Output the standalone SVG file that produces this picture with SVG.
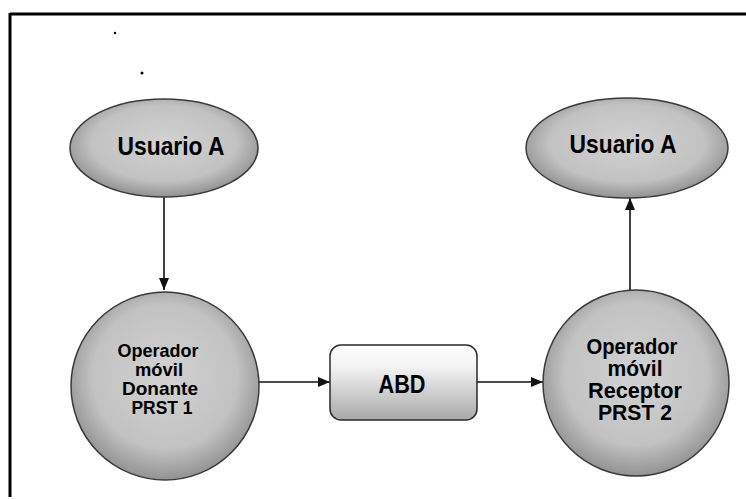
<svg xmlns="http://www.w3.org/2000/svg" width="746" height="499" viewBox="0 0 746 499">
<defs>
<radialGradient id="gEll" cx="50%" cy="45%" r="55%">
<stop offset="0" stop-color="#d2d2d2"/>
<stop offset="0.7" stop-color="#c2c2c2"/>
<stop offset="1" stop-color="#929292"/>
</radialGradient>
<linearGradient id="gBox" x1="0" y1="0" x2="0" y2="1">
<stop offset="0" stop-color="#ffffff"/>
<stop offset="0.3" stop-color="#f2f2f2"/>
<stop offset="1" stop-color="#a8a8a8"/>
</linearGradient>
<marker id="arr" markerWidth="12" markerHeight="10" refX="12" refY="5" orient="auto" markerUnits="userSpaceOnUse">
<path d="M0,0 L12,5 L0,10 Z" fill="#111"/>
</marker>
</defs>
<style>
.shape{fill:url(#gEll);stroke:#3a3a3a;stroke-width:1.5}
.box{fill:url(#gBox);stroke:#2a2a2a;stroke-width:1.5}
.t{font-family:"Liberation Sans",Arial,sans-serif;font-weight:bold;fill:#000;text-anchor:middle}
.conn{stroke:#111;stroke-width:1.6;fill:none;marker-end:url(#arr)}
</style>
<rect width="746" height="499" fill="#fff"/>
<g id="frame">
<line x1="10" y1="14" x2="746" y2="14" stroke="#000" stroke-width="3"/>
<line x1="10" y1="13" x2="10" y2="497" stroke="#000" stroke-width="3"/>
<circle cx="115" cy="33" r="1.2" fill="#000"/>
<circle cx="142" cy="73" r="1.5" fill="#000"/>
</g>
<g id="connectors">
<line class="conn" x1="164" y1="197" x2="164" y2="290"/>
<line class="conn" x1="630" y1="290" x2="630" y2="198"/>
<line class="conn" x1="259" y1="382" x2="330" y2="382"/>
<line class="conn" x1="477" y1="382" x2="543" y2="382"/>
</g>
<g id="usuarioA1">
<ellipse class="shape" cx="164" cy="148" rx="94" ry="49"/>
<text class="t" x="171" y="155" font-size="25" textLength="107" lengthAdjust="spacingAndGlyphs">Usuario A</text>
</g>
<g id="usuarioA2">
<ellipse class="shape" cx="627" cy="148" rx="101" ry="50"/>
<text class="t" x="623" y="153" font-size="25" textLength="107" lengthAdjust="spacingAndGlyphs">Usuario A</text>
</g>
<g id="donante">
<circle class="shape" cx="165" cy="386" r="94"/>
<text class="t" x="158" y="357" font-size="18.5" textLength="81" lengthAdjust="spacingAndGlyphs">Operador</text>
<text class="t" x="159" y="376" font-size="18.5" textLength="48" lengthAdjust="spacingAndGlyphs">móvil</text>
<text class="t" x="160" y="395" font-size="18.5" textLength="76" lengthAdjust="spacingAndGlyphs">Donante</text>
<text class="t" x="162" y="414" font-size="18.5" textLength="61" lengthAdjust="spacingAndGlyphs">PRST 1</text>
</g>
<g id="abd">
<rect class="box" x="330" y="345" width="147" height="75" rx="11"/>
<text class="t" x="402" y="393" font-size="25" textLength="47" lengthAdjust="spacingAndGlyphs">ABD</text>
</g>
<g id="receptor">
<circle class="shape" cx="636" cy="383" r="93"/>
<text class="t" x="632" y="354" font-size="21.5" textLength="91" lengthAdjust="spacingAndGlyphs">Operador</text>
<text class="t" x="635" y="376" font-size="21.5" textLength="55" lengthAdjust="spacingAndGlyphs">móvil</text>
<text class="t" x="635" y="398" font-size="21.5" textLength="94" lengthAdjust="spacingAndGlyphs">Receptor</text>
<text class="t" x="635" y="420" font-size="21.5" textLength="74" lengthAdjust="spacingAndGlyphs">PRST 2</text>
</g>
</svg>
